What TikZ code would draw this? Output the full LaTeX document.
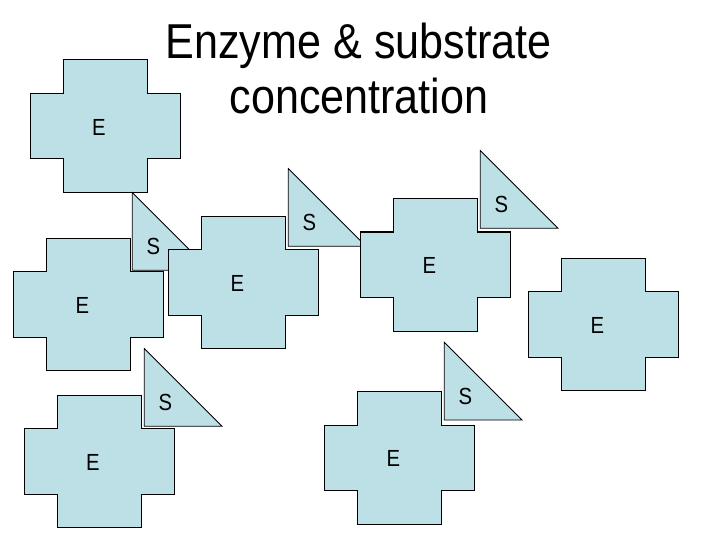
\documentclass[tikz,border=0pt]{standalone}
\usepackage{fontspec}
\setmainfont{Liberation Sans}
\definecolor{shapefill}{RGB}{188,224,229}
\tikzset{
  enzshape/.style={draw=black, line width=1pt, fill=shapefill, line join=miter},
  subshape/.style={draw=black, line width=0.8pt, fill=shapefill, line join=miter},
  lbl/.style={inner sep=0pt, font=\fontsize{23.3}{28}\selectfont},
  ttl/.style={inner sep=0pt, anchor=base, font=\fontsize{49}{55}\selectfont}
}
% enzyme: name, outer-left x, top y
\newcommand\enzymeShape[3]{%
  \draw[enzshape] (#2,#3) ++(33.3,0) -- ++(84,0) -- ++(0,33.3) -- ++(33.3,0)
    -- ++(0,65.7) -- ++(-33.3,0) -- ++(0,33.3) -- ++(-84,0) -- ++(0,-33.3)
    -- ++(-33.3,0) -- ++(0,-65.7) -- ++(33.3,0) -- cycle;
  \node[lbl] (#1) at ({#2+69},{#3+67}) {\scalebox{0.87}[1]{E}};
}
% substrate: name, left x, bottom y
\newcommand\substrateShape[3]{%
  \draw[subshape] (#2,#3) -- ++(0,-77.7) -- ++(77.7,77.7) -- cycle;
  \node[lbl] (#1) at ({#2+21},{#3-24}) {\scalebox{0.87}[1]{S}};
}
\begin{document}
\begin{tikzpicture}[x=1pt,y=-1pt]
\useasboundingbox[fill=white] (0,0) rectangle (720,540);
\node[ttl] (title1) at (358.5,58.3) {\scalebox{0.88}[1]{Enzyme \& substrate}};
\node[ttl] (title2) at (359,113.3) {\scalebox{0.88}[1]{concentration}};
\enzymeShape{e1}{30}{60}
\enzymeShape{e2}{13.3}{238.3}
\substrateShape{s1}{132.3}{270.3}
\enzymeShape{e3}{168.3}{216.3}
\substrateShape{s2}{288.3}{246.3}
\enzymeShape{e4}{360.3}{198.7}
\substrateShape{s3}{480.3}{228.3}
\enzymeShape{e5}{528.3}{258.3}
\substrateShape{s4}{144.3}{426.3}
\enzymeShape{e6}{24}{395.3}
\substrateShape{s5}{444.3}{420}
\enzymeShape{e7}{324.3}{391.7}
\end{tikzpicture}
\end{document}
